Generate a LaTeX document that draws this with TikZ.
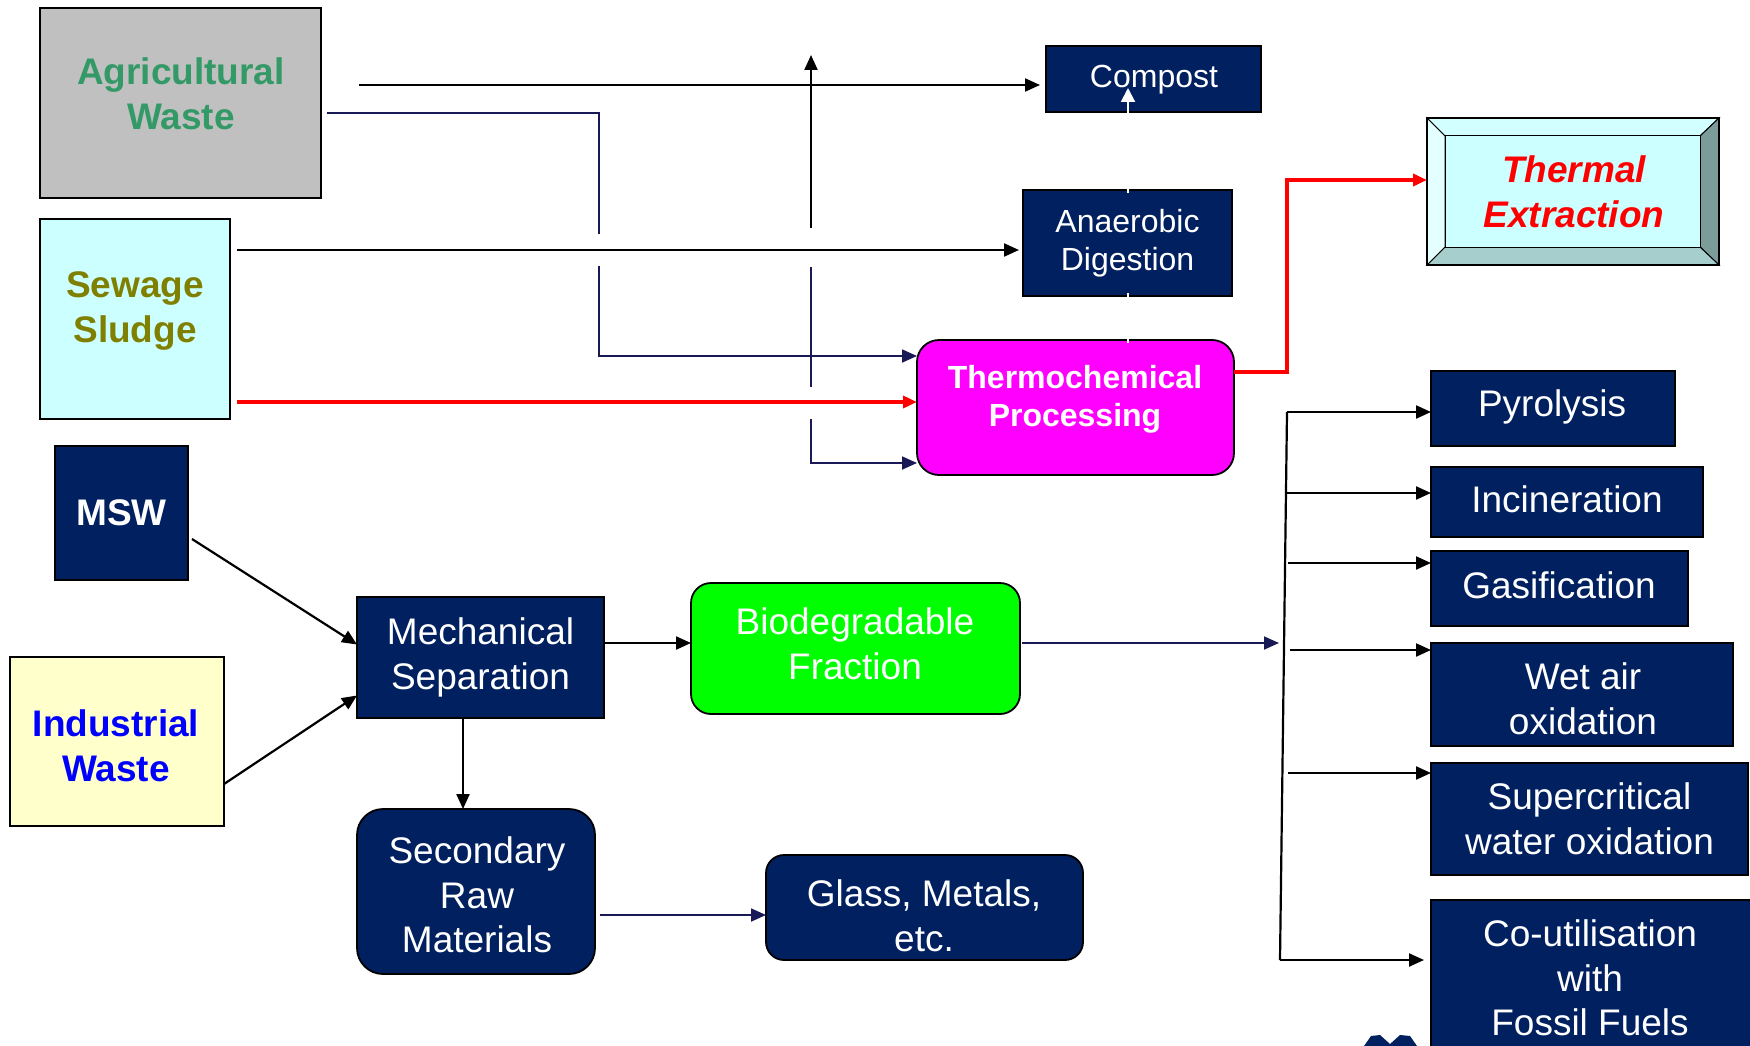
\documentclass[tikz,border=0pt]{standalone}
\usepackage{fontspec}
\setmainfont{Liberation Sans}
\usetikzlibrary{arrows.meta,calc}
\definecolor{navy}{RGB}{0,32,96}
\definecolor{lnavy}{RGB}{25,25,85}
\definecolor{agrigreen}{RGB}{51,153,102}
\definecolor{olivetxt}{RGB}{128,128,0}
\definecolor{lcyan}{RGB}{204,255,255}
\definecolor{lyellow}{RGB}{255,255,204}
\definecolor{agrigray}{RGB}{192,192,192}
\definecolor{brightgreen}{RGB}{0,255,0}
\definecolor{brightmagenta}{RGB}{255,0,255}
\definecolor{brightred}{RGB}{255,0,0}
\definecolor{brightblue}{RGB}{0,0,255}
\definecolor{bevtop}{RGB}{210,255,255}
\definecolor{bevleft}{RGB}{228,255,255}
\definecolor{bevright}{RGB}{124,156,154}
\definecolor{bevbot}{RGB}{166,206,204}
\begin{document}
\begin{tikzpicture}[x=1pt,y=-1pt,
  every node/.style={inner sep=0pt, outer sep=0pt, align=center},
  sz/.style 2 args={minimum width=#1, minimum height=#2},
  fr/.style={font=\fontsize{37}{44.6}\selectfont},
  fb/.style={font=\fontsize{37}{44.6}\selectfont\bfseries},
  fs/.style={font=\fontsize{32}{38}\selectfont},
  fsb/.style={font=\fontsize{32}{38}\selectfont\bfseries},
  nbox/.style={draw=black, line width=1.8pt, fill=navy, text=white},
  tip/.style={-{Triangle[length=15pt,width=13pt]}},
  blk/.style={draw=black, line width=2.2pt, tip},
  blkline/.style={draw=black, line width=2.2pt},
  nvy/.style={draw=lnavy, line width=1.8pt, tip},
  nvyline/.style={draw=lnavy, line width=1.8pt},
  redl/.style={draw=brightred, line width=4.5pt, -{Triangle[length=14pt,width=12pt]}},
]
\path[use as bounding box] (0,0) rectangle (1750,1046);

% ---------- source boxes ----------
\node[draw=black, line width=1.8pt, fill=agrigray, sz={281}{190}] (agri) at (180.5,103) {};
\node[fb, text=agrigreen] (agritxt) at (181,94) {Agricultural\\Waste};

\node[draw=black, line width=1.8pt, fill=lcyan, sz={190}{200}] (sew) at (135,319) {};
\node[fb, text=olivetxt] (sewtxt) at (135,311) {Sewage\\Sludge};

\node[nbox, fb, sz={133}{134}] (msw) at (121.5,513) {MSW};

\node[draw=black, line width=1.8pt, fill=lyellow, sz={214}{169}] (ind) at (117,741.5) {};
\node[fb, text=brightblue] (indtxt) at (116,746) {Industrial\\Waste};

% ---------- middle boxes ----------
\node[nbox, fr, sz={247}{121}] (mech) at (480.5,657.5) {Mechanical\\Separation};
\node[draw=black, line width=1.8pt, fill=brightgreen, rounded corners=20pt, sz={329}{131}] (bio) at (855.5,648.5) {};
\node[fr, text=white] (biotxt) at (855,644) {Biodegradable\\Fraction};
\node[nbox, rounded corners=26pt, sz={238}{165}] (sec) at (476,891.5) {};
\node[fr, text=white] (sectxt) at (477,895) {Secondary\\Raw\\Materials};
\node[nbox, rounded corners=18pt, sz={317}{105}] (glass) at (924.5,907.5) {};
\node[fr, text=white] (glasstxt) at (924,916) {Glass, Metals,\\etc.};

\node[nbox, sz={215}{66}] (compost) at (1153.5,79) {};
\node[fs, text=white] (comptxt) at (1154,80) {Compost};
\node[nbox, fs, sz={209}{106}] (anaer) at (1127.5,243) {Anaerobic\\Digestion};
\node[draw=black, line width=1.8pt, fill=brightmagenta, rounded corners=22pt, sz={317}{135}] (thermo) at (1075.5,407.5) {};
\node[fsb, text=white] (thermotxt) at (1075,399) {Thermochemical\\Processing};

% ---------- thermal extraction (bevel box) ----------
\node[sz={292}{147}] (tx) at (1573,191.5) {};
\filldraw[fill=bevtop, draw=black, line width=1pt] (1427,118) -- (1719,118) -- (1700,136) -- (1445,136) -- cycle;
\filldraw[fill=bevright, draw=black, line width=1pt] (1719,118) -- (1719,265) -- (1700,247) -- (1700,136) -- cycle;
\filldraw[fill=bevbot, draw=black, line width=1pt] (1719,265) -- (1427,265) -- (1445,247) -- (1700,247) -- cycle;
\filldraw[fill=bevleft, draw=black, line width=1pt] (1427,265) -- (1427,118) -- (1445,136) -- (1445,247) -- cycle;
\filldraw[fill=lcyan, draw=black, line width=1pt] (1445,136) rectangle (1700,247);
\draw[black, line width=1.8pt] (1427,118) rectangle (1719,265);
\node[font=\fontsize{37}{44.6}\selectfont\bfseries\itshape, text=brightred] (txtxt) at (1574,192) {Thermal\\Extraction};

% ---------- right column ----------
\node[nbox, sz={244}{75}] (pyro) at (1553,408.5) {};
\node[fr, text=white] (pyrotxt) at (1552,407) {Pyrolysis};
\node[nbox, sz={272}{70}] (incin) at (1567,502) {};
\node[fr, text=white] (incintxt) at (1567,499) {Incineration};
\node[nbox, sz={257}{75}] (gasif) at (1559.5,588.5) {};
\node[fr, text=white] (gasiftxt) at (1559,585) {Gasification};
\node[nbox, sz={302}{103}] (wet) at (1582,694.5) {};
\node[fr, text=white] (wettxt) at (1583,699) {Wet air\\oxidation};
\node[nbox, fr, sz={317}{112}] (superc) at (1589.5,819) {Supercritical\\water oxidation};
\node[nbox, sz={322}{170}] (coutil) at (1592,985) {};
\node[fr, text=white] (coutiltxt) at (1590,978) {Co-utilisation\\with\\Fossil Fuels};

% logo fragment
\fill[navy] (1364,1046) -- (1371,1036) -- (1380,1035) -- (1390,1044) -- (1400,1035) -- (1410,1036) -- (1417,1046) -- cycle;

% ---------- connectors ----------
% Agricultural -> Compost
\coordinate (ac0) at (359,85);
\draw[blk, shorten >=6pt] (ac0) -- (ac0 -| compost.west);
% Agricultural -> Thermochemical
\coordinate (at0) at (327,113);
\coordinate (at1) at (599,113);
\coordinate (at2) at (599,234);
\coordinate (at3) at (599,266);
\coordinate (at4) at (599,356);
\draw[nvyline] (at0) -- (at1) -- (at2);
\draw[nvy] (at3) -- (at4) -- (at4 -| thermo.west);
% Sewage -> Anaerobic
\coordinate (sa0) at (237,250);
\draw[blk, shorten >=4pt] (sa0) -- (sa0 -| anaer.west);
% Sewage -> Thermochemical (red)
\coordinate (st0) at (237,402);
\draw[redl] (st0) -- (st0 -| thermo.west);
% vertical riser
\coordinate (v0) at (811,228);
\coordinate (v1) at (811,55);
\draw[blk] (v0) -- (v1);
\coordinate (v2) at (811,267);
\coordinate (v3) at (811,387);
\draw[nvyline, line width=1.5pt] (v2) -- (v3);
\coordinate (v4) at (811,419);
\coordinate (v5) at (811,463);
\draw[nvy] (v4) -- (v5) -- (v5 -| thermo.west);
% Thermochemical -> Thermal Extraction (red)
\coordinate (r0) at (1234,372);
\coordinate (r1) at (1287,372);
\coordinate (r2) at (1287,180);
\draw[redl] (r0) -- (r1) -- (r2) -- (r2 -| tx.west);
% white link to Compost
\coordinate (w0) at (1128,116);
\coordinate (w1) at (1128,88);
\draw[white, line width=2pt, -{Triangle[length=14pt,width=14pt]}] (w0) -- (w1);
\draw[white, line width=1.5pt] (1128,187) -- (1128,193);
\draw[white, line width=1.5pt] (1128,293) -- (1128,299);
\draw[white, line width=1.5pt] (1128,337) -- (1128,343);
% MSW / Industrial -> Mechanical
\coordinate (m0) at (192,539);
\draw[blk] (m0) -- ($(mech.west)+(0,-13)$);
\coordinate (i0) at (224,784);
\draw[blk] (i0) -- ($(mech.west)+(0,38)$);
% Mechanical -> Biodegradable
\coordinate (mb) at (604,643);
\draw[blk] (mb) -- (mb -| bio.west);
% Mechanical -> Secondary
\coordinate (ms) at (463,718);
\draw[blk] (ms) -- (ms |- sec.north);
% Secondary -> Glass
\coordinate (sg) at (600,915);
\draw[nvy] (sg) -- (sg -| glass.west);
% Biodegradable -> distribution
\coordinate (bb) at (1022,643);
\coordinate (bt) at (1279,643);
\draw[nvy] (bb) -- (bt);
% distribution bar
\coordinate (b1) at (1287,412);
\coordinate (b2) at (1287,493);
\coordinate (b3) at (1288,563);
\coordinate (b4) at (1290,650);
\coordinate (b5) at (1288,773);
\coordinate (b6) at (1280,960);
\draw[blkline] (b1) -- (b6);
\draw[blk] (b1) -- (b1 -| pyro.west);
\draw[blk] (b2) -- (b2 -| incin.west);
\draw[blk] (b3) -- (b3 -| gasif.west);
\draw[blk] (b4) -- (b4 -| wet.west);
\draw[blk] (b5) -- (b5 -| superc.west);
\draw[blk, shorten >=7pt] (b6) -- (b6 -| coutil.west);
\end{tikzpicture}
\end{document}
